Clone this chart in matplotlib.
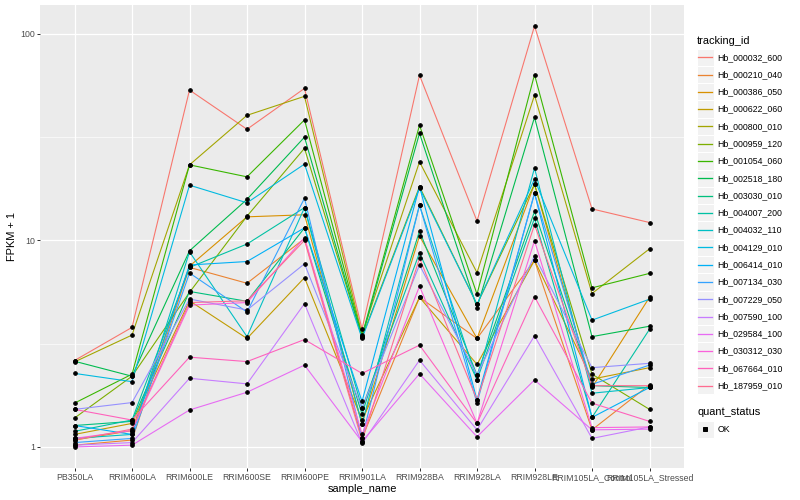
import numpy as np
import matplotlib
matplotlib.use("Agg")
import matplotlib.pyplot as plt
from matplotlib.lines import Line2D
from matplotlib.patches import Rectangle
from matplotlib.ticker import FixedLocator, NullFormatter

plt.rcParams['font.family'] = ['Liberation Sans', 'DejaVu Sans']

samples = ["PB350LA", "RRIM600LA", "RRIM600LE", "RRIM600SE", "RRIM600PE",
           "RRIM901LA", "RRIM928BA", "RRIM928LA", "RRIM928LE",
           "RRIM105LA_Control", "RRIM105LA_Stressed"]

tracking_ids = ["Hb_000032_600", "Hb_000210_040", "Hb_000386_050", "Hb_000622_060",
                "Hb_000800_010", "Hb_000959_120", "Hb_001054_060", "Hb_002518_180",
                "Hb_003030_010", "Hb_004007_200", "Hb_004032_110", "Hb_004129_010",
                "Hb_006414_010", "Hb_007134_030", "Hb_007229_050", "Hb_007590_100",
                "Hb_029584_100", "Hb_030312_030", "Hb_067664_010", "Hb_187959_010"]

palette = ["#F8766D", "#EA8331", "#D89000", "#C09B00", "#A3A500", "#7CAE00",
           "#39B600", "#00BB4E", "#00BF7D", "#00C1A3", "#00BFC4", "#00BAE0",
           "#00B0F6", "#35A2FF", "#9590FF", "#C77CFF", "#E76BF3", "#FA62DB",
           "#FF62BC", "#FF6C91"]

# FPKM + 1 values per gene, in sample order
hb_000032_600 = [2.62, 3.79, 53.4, 34.5, 54.4, 3.72, 63.0, 12.4, 109.0, 14.2, 12.2]
hb_000210_040 = [1.02, 1.08, 7.4, 6.2, 10.2, 1.10, 5.3, 3.35, 8.0, 1.21, 2.0]
hb_000386_050 = [1.08, 1.20, 7.5, 13.0, 13.3, 1.29, 10.5, 3.35, 18.7, 1.94, 5.3]
hb_000622_060 = [1.15, 1.30, 5.1, 3.35, 6.6, 1.35, 5.3, 2.51, 8.0, 2.13, 2.42]
hb_000800_010 = [2.58, 3.48, 23.2, 40.3, 49.8, 3.50, 24.0, 6.98, 50.4, 5.53, 9.1]
hb_000959_120 = [1.38, 2.20, 5.6, 13.1, 27.9, 3.40, 18.2, 4.90, 18.7, 2.25, 1.52]
hb_001054_060 = [1.63, 2.25, 23.2, 20.3, 38.3, 3.45, 36.1, 5.49, 63.4, 5.89, 6.92]
hb_002518_180 = [2.60, 2.20, 8.9, 15.8, 31.6, 3.40, 33.0, 4.73, 39.4, 3.42, 3.84]
hb_003030_010 = [1.27, 1.33, 5.66, 5.07, 11.5, 1.44, 11.1, 2.23, 13.8, 1.98, 1.94]
hb_004007_200 = [1.19, 1.35, 7.4, 9.6, 14.4, 1.54, 8.7, 2.11, 12.8, 1.39, 3.71]
hb_004032_110 = [1.10, 1.15, 8.8, 3.42, 14.4, 1.29, 14.8, 2.11, 22.4, 1.82, 1.94]
hb_004129_010 = [2.27, 2.07, 18.5, 15.2, 23.4, 3.35, 17.9, 4.90, 19.8, 4.11, 5.19]
hb_006414_010 = [1.27, 1.15, 7.6, 7.9, 11.5, 1.66, 18.2, 1.69, 16.9, 1.39, 1.94]
hb_007134_030 = [1.05, 1.10, 6.95, 4.5, 16.0, 1.10, 14.8, 1.63, 16.9, 2.01, 2.49]
hb_007229_050 = [1.52, 1.64, 5.2, 4.6, 7.7, 1.54, 7.6, 2.23, 8.4, 2.42, 2.54]
hb_007590_100 = [1.02, 1.05, 2.15, 2.02, 4.94, 1.04, 2.63, 1.21, 3.45, 1.10, 1.25]
hb_029584_100 = [1.00, 1.02, 1.51, 1.84, 2.49, 1.06, 2.26, 1.12, 2.11, 1.21, 1.22]
hb_030312_030 = [1.10, 1.20, 4.86, 5.0, 10.3, 1.15, 6.0, 1.30, 9.96, 1.24, 1.25]
hb_067664_010 = [1.52, 1.35, 2.72, 2.59, 3.31, 2.27, 3.11, 1.30, 5.34, 1.63, 1.33]
hb_187959_010 = [1.08, 1.22, 5.0, 5.1, 10.0, 1.07, 8.2, 1.69, 11.9, 1.98, 1.98]

series = [hb_000032_600, hb_000210_040, hb_000386_050, hb_000622_060, hb_000800_010,
          hb_000959_120, hb_001054_060, hb_002518_180, hb_003030_010, hb_004007_200,
          hb_004032_110, hb_004129_010, hb_006414_010, hb_007134_030, hb_007229_050,
          hb_007590_100, hb_029584_100, hb_030312_030, hb_067664_010, hb_187959_010]

W, H = 800, 500
fig = plt.figure(figsize=(W / 72, H / 72), dpi=72)
L, R, T, B = 40, 684, 5, 468
ax = fig.add_axes([L / W, 1 - B / H, (R - L) / W, (B - T) / H])
ax.set_facecolor("#EBEBEB")
for s in ax.spines.values():
    s.set_visible(False)

x = np.arange(len(samples))
for vals, col in zip(series, palette):
    ax.plot(x, vals, color=col, lw=1.1, zorder=3, solid_capstyle='butt')
for vals in series:
    ax.plot(x, vals, ls='none', marker='o', ms=3.6, color='black', zorder=4)

ax.set_yscale('log')
allv = np.log10(np.concatenate([np.array(v) for v in series]))
lo, hi = allv.min(), allv.max()
pad = 0.05 * (hi - lo)
ax.set_ylim(10 ** (lo - pad), 10 ** (hi + pad))
ax.set_xlim(-0.6, len(samples) - 0.4)

ax.yaxis.set_major_locator(FixedLocator([1, 10, 100]))
ax.yaxis.set_minor_locator(FixedLocator([10 ** 0.5, 10 ** 1.5]))
ax.yaxis.set_minor_formatter(NullFormatter())
ax.set_yticklabels(["1", "10", "100"])
ax.set_xticks(x)
ax.set_xticklabels(samples)

ax.grid(which='major', color='white', lw=1.3, zorder=1)
ax.grid(which='minor', axis='y', color='white', lw=0.6, zorder=1)
ax.set_axisbelow(True)
ax.tick_params(which='major', length=2.75, width=1.0, color='#333333',
               labelsize=8.8, labelcolor='#4D4D4D', pad=2.2)
ax.tick_params(which='minor', length=0)

ax.set_xlabel("sample_name", fontsize=11, labelpad=2)
ax.set_ylabel("FPKM + 1", fontsize=11, labelpad=3)


# legend (drawn in pixel space)
def fx(px):
    return px / W


def fy(py):
    return 1 - py / H


fig.text(fx(697), fy(40.5), "tracking_id", fontsize=11, va='center', ha='left')
key = 17.28
y0 = 57.3
for i, (tid, col) in enumerate(zip(tracking_ids, palette)):
    cy = y0 + key * i
    fig.add_artist(Rectangle((fx(696.5), fy(cy + key / 2)), key / W, key / H,
                             transform=fig.transFigure, facecolor="#F2F2F2",
                             edgecolor='white', lw=1.0, zorder=1))
    fig.add_artist(Line2D([fx(698.2), fx(712.1)], [fy(cy), fy(cy)],
                          transform=fig.transFigure, color=col, lw=1.3, zorder=2))
    fig.text(fx(717.5), fy(cy), tid, fontsize=8.8, va='center', ha='left')

fig.text(fx(697), fy(412.3), "quant_status", fontsize=11, va='center', ha='left')
cy = 429.3
fig.add_artist(Rectangle((fx(696.5), fy(cy + key / 2)), key / W, key / H,
                         transform=fig.transFigure, facecolor="#F2F2F2",
                         edgecolor='white', lw=1.0, zorder=1))
fig.add_artist(Line2D([fx(705.1)], [fy(cy)], transform=fig.transFigure,
                      ls='none', marker='s', ms=3.4, color='black', zorder=2))
fig.text(fx(717.5), fy(cy), "OK", fontsize=8.8, va='center', ha='left')

fig.savefig("out.png", dpi=72, facecolor='white')
